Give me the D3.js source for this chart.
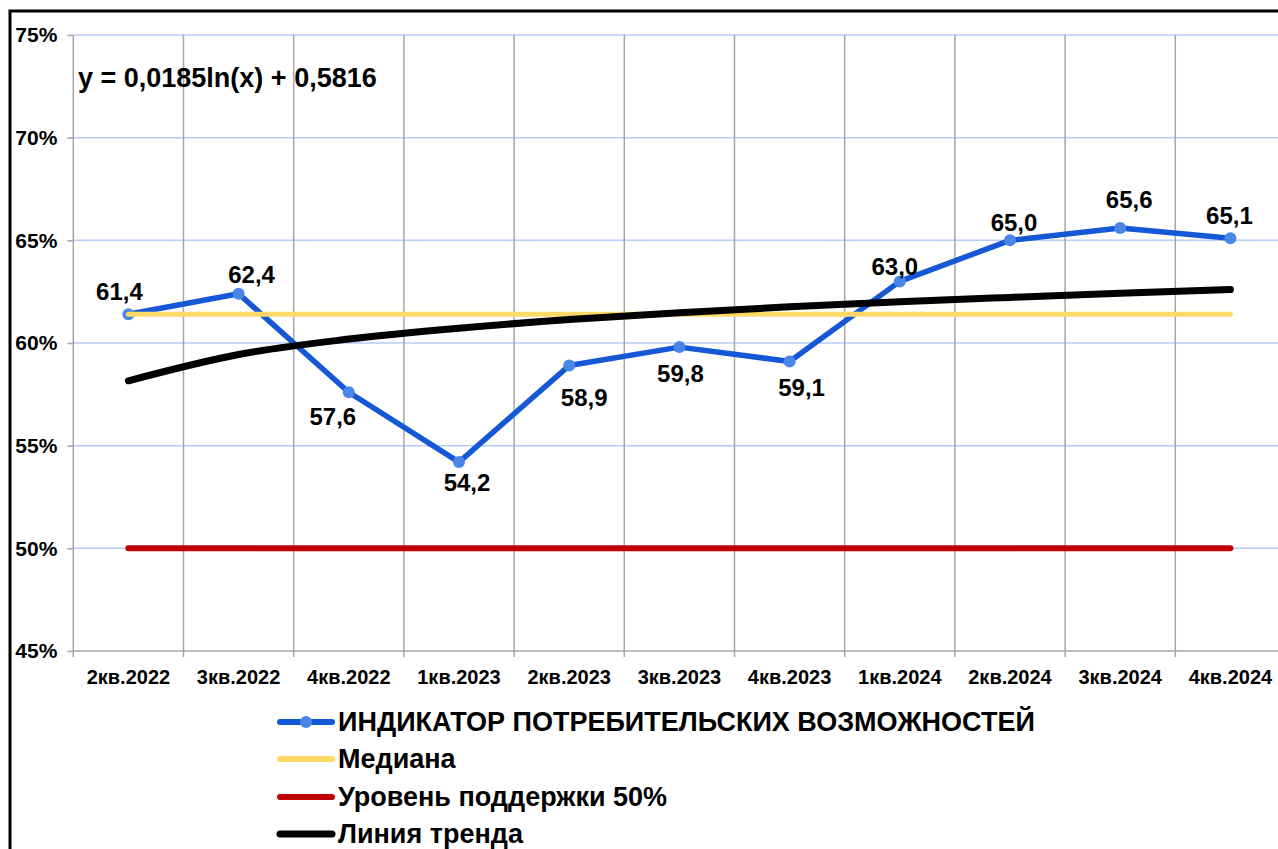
<!DOCTYPE html>
<html>
<head>
<meta charset="utf-8">
<script src="https://cdn.jsdelivr.net/npm/d3@7"></script>
<style>
  body { margin: 0; background: #fff; }
  svg { display: block; font-family: "Liberation Sans", Arial, sans-serif; font-weight: bold; }
</style>
</head>
<body>
<script>
var quarters = ['2кв.2022', '3кв.2022', '4кв.2022', '1кв.2023', '2кв.2023', '3кв.2023',
                '4кв.2023', '1кв.2024', '2кв.2024', '3кв.2024', '4кв.2024'];
var indicator = [61.4, 62.4, 57.6, 54.2, 58.9, 59.8, 59.1, 63.0, 65.0, 65.6, 65.1];
var median = [61.4, 61.4, 61.4, 61.4, 61.4, 61.4, 61.4, 61.4, 61.4, 61.4, 61.4];
var support = [50, 50, 50, 50, 50, 50, 50, 50, 50, 50, 50];
var trend = [58.16, 59.44, 60.19, 60.72, 61.14, 61.47, 61.76, 62.01, 62.22, 62.42, 62.60];
var yTicks = [45, 50, 55, 60, 65, 70, 75];
var legendNames = ['ИНДИКАТОР ПОТРЕБИТЕЛЬСКИХ ВОЗМОЖНОСТЕЙ', 'Медиана',
                   'Уровень поддержки 50%', 'Линия тренда'];
var equation = 'y = 0,0185ln(x) + 0,5816';

// label placement (pixels, relative to the point)
var labelShift = [[-9, -23], [13, -19], [-16, 24], [8, 21], [15, 32], [1, 26],
                  [12, 26], [-5, -15], [4, -18], [9, -28], [-1, -23]];

var W = 1278, H = 849;
var plotLeft = 73.3, plotRight = 73.3 + 11 * 110.2, plotTop = 35, plotBottom = 651;

var svg = d3.select('body').append('svg')
    .attr('width', W)
    .attr('height', H);

var x = d3.scaleBand().domain(quarters).range([plotLeft, plotRight]);
var y = d3.scaleLinear().domain([45, 75]).range([plotBottom, plotTop]);
function cx(d, i) { return x(quarters[i]) + x.bandwidth() / 2; }

// frame
svg.append('rect')
    .attr('x', 10).attr('y', 11)
    .attr('width', W + 20).attr('height', H + 20)
    .style('fill', 'none')
    .style('stroke', '#000')
    .style('stroke-width', 3);

// horizontal grid
svg.selectAll('.hgrid')
    .data(yTicks.slice(1))
    .enter().append('line')
    .attr('class', 'hgrid')
    .attr('x1', plotLeft).attr('x2', plotRight)
    .attr('y1', function(d) { return y(d); })
    .attr('y2', function(d) { return y(d); })
    .style('stroke', '#b9cbf7')
    .style('stroke-width', 1.5);

// vertical grid + ticks below axis
var bounds = quarters.map(function(q) { return x(q); }).concat([plotRight]);
svg.selectAll('.vgrid')
    .data(bounds)
    .enter().append('line')
    .attr('class', 'vgrid')
    .attr('x1', function(d) { return d; })
    .attr('x2', function(d) { return d; })
    .attr('y1', plotTop).attr('y2', plotBottom + 6)
    .style('stroke', '#a6a6a6')
    .style('stroke-width', 1.5);

// bottom axis line
svg.append('line')
    .attr('x1', plotLeft).attr('x2', plotRight)
    .attr('y1', plotBottom).attr('y2', plotBottom)
    .style('stroke', '#a6a6a6')
    .style('stroke-width', 1.5);

// y axis
var yAxis = svg.append('g')
    .attr('transform', 'translate(' + plotLeft + ',0)')
    .call(d3.axisLeft(y).tickValues(yTicks).tickSize(6).tickPadding(10)
          .tickFormat(function(d) { return d + '%'; }));
yAxis.select('.domain').remove();
yAxis.selectAll('line').style('stroke', '#a6a6a6').style('stroke-width', 1.5);
yAxis.selectAll('text')
    .style('font-family', '"Liberation Sans", Arial, sans-serif')
    .style('font-weight', 'bold')
    .style('font-size', '21px')
    .style('fill', '#000');

// x labels
svg.selectAll('.xlab')
    .data(quarters)
    .enter().append('text')
    .attr('class', 'xlab')
    .attr('x', function(d) { return x(d) + x.bandwidth() / 2; })
    .attr('y', 684)
    .attr('text-anchor', 'middle')
    .style('font-size', '20px')
    .text(function(d) { return d; });

var line = d3.line()
    .x(cx)
    .y(function(d) { return y(d); });

// indicator series
svg.append('path')
    .datum(indicator)
    .attr('d', line)
    .style('fill', 'none')
    .style('stroke', '#1558d6')
    .style('stroke-width', 5.5)
    .style('stroke-linejoin', 'round');

svg.selectAll('.dot')
    .data(indicator)
    .enter().append('circle')
    .attr('class', 'dot')
    .attr('cx', cx)
    .attr('cy', function(d) { return y(d); })
    .attr('r', 6)
    .style('fill', '#4a86e8');

// median
svg.append('path')
    .datum(median)
    .attr('d', line)
    .style('fill', 'none')
    .style('stroke', '#ffd966')
    .style('stroke-width', 5)
    .style('stroke-linecap', 'round');

// support level
svg.append('path')
    .datum(support)
    .attr('d', line)
    .style('fill', 'none')
    .style('stroke', '#c00000')
    .style('stroke-width', 6)
    .style('stroke-linecap', 'round');

// trend
svg.append('path')
    .datum(trend)
    .attr('d', d3.line().x(cx).y(function(d) { return y(d); }).curve(d3.curveMonotoneX))
    .style('fill', 'none')
    .style('stroke', '#000')
    .style('stroke-width', 7)
    .style('stroke-linecap', 'round');

// data labels
svg.selectAll('.dlab')
    .data(indicator)
    .enter().append('text')
    .attr('class', 'dlab')
    .attr('x', function(d, i) { return cx(d, i) + labelShift[i][0]; })
    .attr('y', function(d, i) { return y(d) + labelShift[i][1]; })
    .attr('dy', '0.35em')
    .attr('text-anchor', 'middle')
    .style('font-size', '24px')
    .text(function(d) { return d.toFixed(1).replace('.', ','); });

// equation
svg.append('text')
    .attr('x', 78).attr('y', 87)
    .style('font-size', '27px')
    .text(equation);

// legend
var legendColors = ['#1558d6', '#ffd966', '#c00000', '#000'];
var legendWidths = [6, 6, 6, 7];
var rows = [722, 759, 797, 834];
var lg = svg.selectAll('.leg')
    .data(legendNames)
    .enter().append('g')
    .attr('class', 'leg')
    .attr('transform', function(d, i) { return 'translate(0,' + rows[i] + ')'; });

lg.append('line')
    .attr('x1', 280).attr('x2', 332)
    .attr('y1', 0).attr('y2', 0)
    .style('stroke', function(d, i) { return legendColors[i]; })
    .style('stroke-width', function(d, i) { return legendWidths[i]; })
    .style('stroke-linecap', 'round');

lg.filter(function(d, i) { return i === 0; })
    .append('circle')
    .attr('cx', 306).attr('cy', 0).attr('r', 6)
    .style('fill', '#4a86e8');

lg.append('text')
    .attr('x', 338).attr('y', 0)
    .attr('dy', '0.35em')
    .style('font-size', '27px')
    .text(function(d) { return d; });
</script>
</body>
</html>
